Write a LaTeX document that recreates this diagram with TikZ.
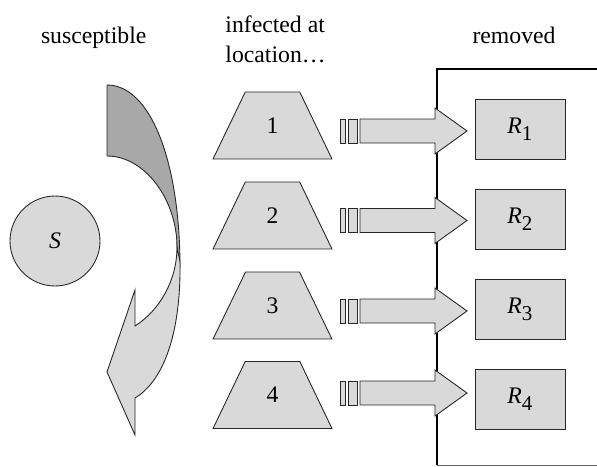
\documentclass[tikz,border=0pt]{standalone}
\usepackage{fontspec}
\setmainfont{Liberation Serif}
\usetikzlibrary{shapes.geometric}
\definecolor{lightfill}{HTML}{D9D9D9}
\definecolor{darkfill}{HTML}{A8A8A8}
\newcommand{\rlabel}[1]{\textit{R}\raisebox{-4pt}{\fontsize{12}{12}\selectfont #1}}
\tikzset{
  shp/.style={draw=black!85,line width=0.5pt,fill=lightfill},
  locbox/.style={shp,trapezium,trapezium angle=65.9,trapezium stretches=true,
    minimum width=2.38cm,minimum height=1.34cm,inner sep=0pt,outer sep=0pt},
  rembox/.style={shp,rectangle,minimum width=1.8cm,minimum height=1.2cm,inner sep=0pt},
  head/.style={font=\fontsize{13.5}{17}\selectfont}
}
\begin{document}
\begin{tikzpicture}[x=0.02cm,y=-0.02cm,font=\fontsize{13.5}{17}\selectfont]
\useasboundingbox[fill=white] (0,0) rectangle (597,466);
% headings
\node[head,anchor=base] (hs) at (93.7,44) {susceptible};
\node[head,align=left,anchor=center] (hi) at (275.5,39) {infected at\\location…};
\node[head,anchor=base] (hr) at (514,44) {removed};
% frame of the removed class
\draw[line width=1.3pt] (437,465) -- (437,69) -- (597,69);
\draw[line width=0.4pt,black!60] (437,465) -- (597,465);
% susceptible
\node[shp,circle,minimum size=1.8cm,inner sep=0pt] (S) at (55,241) {\textit{S}};
% curved arrow
\draw[draw=black!85,line width=0.5pt,fill=darkfill] (107,85) .. controls (150,85) and (180,160) .. (180,268)
  -- (177,247) .. controls (177,200) and (145,156) .. (107,156) -- cycle;
\draw[shp] (177,247) .. controls (177,280) and (160,310) .. (135,326) -- (135,290) -- (107,372)
  -- (135,435) -- (135,398) .. controls (165,380) and (181,330) .. (180,262) -- cycle;
% locations, flows and removed boxes
\foreach \n/\ty/\ay/\ry in {1/125.5/131/129,2/215.5/220.5/219,3/305.5/311/309,4/395/393/399}{
  \node[locbox] (loc\n) at (272.5,\ty) {\n};
  \draw[shp] (340,\ay-12) rectangle (345,\ay+12);
  \draw[shp] (348,\ay-12) rectangle (357,\ay+12);
  \draw[shp] (360,\ay-12) -- (435,\ay-12) -- (435,\ay-23) -- (467,\ay)
    -- (435,\ay+23) -- (435,\ay+12) -- (360,\ay+12) -- cycle;
  \node[rembox] (R\n) at (520,\ry) {\rlabel{\n}};
}
\end{tikzpicture}
\end{document}
